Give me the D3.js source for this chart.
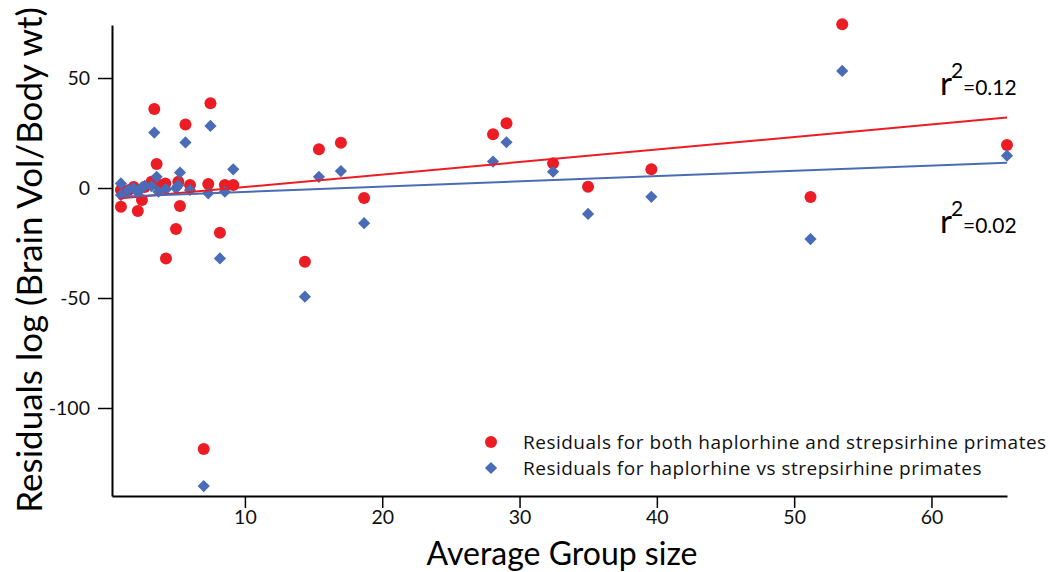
<!DOCTYPE html>
<html>
<head>
<meta charset="utf-8">
<script src="https://cdn.jsdelivr.net/npm/d3@7"></script>
<style>
  body { margin: 0; background: #fff; }
  svg { display: block; }
</style>
</head>
<body>
<div id="chart"></div>
<script>
// average group size for each species
var groupSize = [0.97, 0.97, 1.5, 1.9, 2.2, 2.5, 2.7, 3.2, 3.4, 3.57, 3.7, 4.2, 4.25, 4.98, 5.15, 5.27,
  5.67, 6.0, 7.0, 7.33, 7.49, 8.18, 8.54, 9.15, 14.37, 15.39, 16.99, 18.68, 28.07, 29.05, 32.44,
  34.99, 39.6, 51.19, 53.5, 65.5];
// residuals, both haplorhine and strepsirhine primates (red)
var residBoth = [-8.5, -0.9, -1.0, 0.5, -10.5, -5.5, 0.5, 2.9, 35.9, 10.9, 1.5, 2.1, -32.0, -18.6, 2.9, -8.2,
  28.9, 1.4, -118.6, 1.8, 38.5, -20.3, 1.4, 1.4, -33.5, 17.6, 20.6, -4.5, 24.4, 29.4, 11.2,
  0.6, 8.5, -4.1, 74.4, 19.5];
// residuals, haplorhine vs strepsirhine primates (blue)
var residHaploStrep = [-3.2, 2.1, -0.9, 0.0, -2.0, 0.3, 1.0, 0.9, 25.2, 5.1, -1.7, -0.6, -0.6, -0.1, 1.2, 7.0,
  20.7, -0.9, -135.5, -2.4, 28.2, -32.0, -1.7, 8.5, -49.4, 5.1, 7.7, -16.0, 12.0, 20.8, 7.4,
  -11.8, -4.0, -23.2, 53.2, 14.7];
// fitted lines (end points)
var fitBoth = [[0.8, -4.8], [65.5, 32.0]];
var fitHaploStrep = [[0.8, -4.0], [65.5, 11.5]];
var xTicks = [10, 20, 30, 40, 50, 60];
var yTicks = [50, 0, -50, -100];
var legendLabels = ["Residuals for both haplorhine and strepsirhine primates",
  "Residuals for haplorhine vs strepsirhine primates"];
var r2Labels = ["=0.12", "=0.02"];

var W = 1050, H = 572;
var m = {left: 112, right: 1007, top: 25, bottom: 496};
var red = "#ec1c24", blue = "#4a6cb6";
var font = "Lato, 'Open Sans', sans-serif";

var svg = d3.select("#chart").append("svg").attr("width", W).attr("height", H);

var x = d3.scaleLinear().domain([0.32, 65.5]).range([m.left, m.right]);
var y = d3.scaleLinear().domain([-140, 74.1]).range([m.bottom, m.top]);

var pts = groupSize.map(function (g, i) {
  return {x: g, a: residBoth[i], b: residHaploStrep[i]};
});

// axes
var xAxis = svg.append("g").attr("transform", "translate(0," + m.bottom + ")")
  .call(d3.axisBottom(x).tickValues(xTicks).tickSize(12).tickPadding(2).tickSizeOuter(0));
var yAxis = svg.append("g").attr("transform", "translate(" + m.left + ",0)")
  .call(d3.axisLeft(y).tickValues(yTicks).tickSize(14).tickPadding(8).tickSizeOuter(0)
    .tickFormat(d3.format("d")));
[xAxis, yAxis].forEach(function (a) {
  a.attr("font-family", font);
  a.select(".domain").attr("stroke", "#000").attr("stroke-width", 2);
  a.selectAll(".tick line").attr("stroke", "#000").attr("stroke-width", 1.5);
  a.selectAll(".tick text").attr("font-size", 19.5).attr("fill", "#111");
});
yAxis.selectAll(".tick text").text(function (d) { return d < 0 ? "-" + Math.abs(d) : d; });

// points
svg.append("g").selectAll("circle").data(pts).enter().append("circle")
  .attr("cx", function (d) { return x(d.x); })
  .attr("cy", function (d) { return y(d.a); })
  .attr("r", 6).attr("fill", red);

var diamond = d3.symbol().type(d3.symbolDiamond2).size(95);
svg.append("g").selectAll("path").data(pts).enter().append("path")
  .attr("d", diamond)
  .attr("transform", function (d) { return "translate(" + x(d.x) + "," + y(d.b) + ")"; })
  .attr("fill", blue);

// fit lines
var line = d3.line().x(function (d) { return x(d[0]); }).y(function (d) { return y(d[1]); });
svg.append("path").datum(fitBoth).attr("d", line).attr("stroke", red).attr("stroke-width", 2).attr("fill", "none");
svg.append("path").datum(fitHaploStrep).attr("d", line).attr("stroke", blue).attr("stroke-width", 2).attr("fill", "none");

// r^2 labels
[[95, r2Labels[0]], [233, r2Labels[1]]].forEach(function (r) {
  var g = svg.append("g").attr("font-family", font).attr("fill", "#000");
  g.append("text").attr("x", 940).attr("y", r[0]).attr("font-size", 33).text("r");
  g.append("text").attr("x", 951).attr("y", r[0] - 17).attr("font-size", 21).text("2");
  g.append("text").attr("x", 963).attr("y", r[0]).attr("font-size", 21).text(r[1]);
});

// legend
var leg = svg.append("g").attr("font-family", "'Open Sans', sans-serif")
  .attr("font-size", 19).attr("letter-spacing", 0.5);
leg.append("circle").attr("cx", 491).attr("cy", 442).attr("r", 6).attr("fill", red);
leg.append("path").attr("d", diamond).attr("transform", "translate(491,468)").attr("fill", blue);
leg.selectAll("text").data(legendLabels).enter().append("text")
  .attr("x", 523).attr("y", function (d, i) { return 442 + i * 26; })
  .attr("dy", "0.35em").attr("fill", "#111").text(function (d) { return d; });

// axis titles
svg.append("text").attr("x", 562).attr("y", 565).attr("text-anchor", "middle")
  .attr("font-family", font).attr("font-size", 32).attr("fill", "#000").text("Average Group size");
svg.append("text").attr("transform", "translate(42,260) rotate(-90)").attr("text-anchor", "middle")
  .attr("font-family", font).attr("font-size", 35).attr("fill", "#000")
  .text("Residuals log (Brain Vol/Body wt)");
</script>
</body>
</html>
